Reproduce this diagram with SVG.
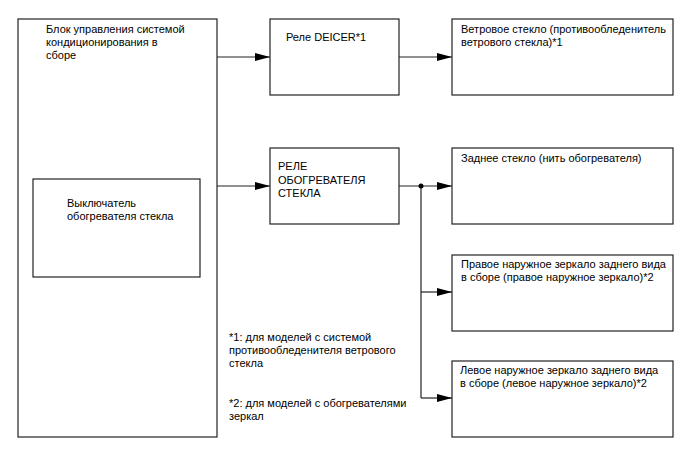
<svg xmlns="http://www.w3.org/2000/svg" width="688" height="463" viewBox="0 0 688 463">
<style>
.box{fill:#fff;stroke:#222;stroke-width:1.2}
.ln{fill:none;stroke:#222;stroke-width:1.2}
text{font-family:"Liberation Sans",Arial,sans-serif;font-size:11px;fill:#000}
</style>
<defs>
<marker id="ah" markerWidth="16" markerHeight="10" refX="15" refY="4" orient="auto" markerUnits="userSpaceOnUse">
<path d="M0,0 L15,4 L0,8 Z" fill="#000"/>
</marker>
</defs>
<rect width="688" height="463" fill="#fff"/>
<g id="ac-unit">
<rect class="box" x="18" y="19" width="199" height="418"/>
<text x="46" y="33">Блок управления системой</text>
<text x="46" y="46">кондиционирования в</text>
<text x="46" y="59">сборе</text>
</g>
<g id="switch">
<rect class="box" x="33" y="179" width="167" height="98"/>
<text x="67" y="207">Выключатель</text>
<text x="67" y="220">обогревателя стекла</text>
</g>
<g id="deicer-relay">
<rect class="box" x="270" y="19" width="129" height="76"/>
<text x="286" y="41">Реле DEICER*1</text>
</g>
<g id="windshield">
<rect class="box" x="452" y="19" width="221" height="76"/>
<text x="461" y="33">Ветровое стекло (противообледенитель</text>
<text x="461" y="46">ветрового стекла)*1</text>
</g>
<g id="defogger-relay">
<rect class="box" x="270" y="148" width="129" height="76"/>
<text x="278" y="170">РЕЛЕ</text>
<text x="278" y="184">ОБОГРЕВАТЕЛЯ</text>
<text x="278" y="197">СТЕКЛА</text>
</g>
<g id="rear-window">
<rect class="box" x="452" y="148" width="221" height="76"/>
<text x="461" y="162">Заднее стекло (нить обогревателя)</text>
</g>
<g id="right-mirror">
<rect class="box" x="452" y="255" width="221" height="76"/>
<text x="461" y="268">Правое наружное зеркало заднего вида</text>
<text x="461" y="281">в сборе (правое наружное зеркало)*2</text>
</g>
<g id="left-mirror">
<rect class="box" x="452" y="361" width="221" height="76"/>
<text x="460" y="374">Левое наружное зеркало заднего вида</text>
<text x="460" y="387">в сборе (левое наружное зеркало)*2</text>
</g>
<g id="notes">
<text x="229" y="341">*1: для моделей с системой</text>
<text x="229" y="354">противообледенителя ветрового</text>
<text x="229" y="367">стекла</text>
<text x="229" y="407">*2: для моделей с обогревателями</text>
<text x="229" y="420">зеркал</text>
</g>
<g id="connectors">
<line class="ln" x1="217" y1="57" x2="270" y2="57" marker-end="url(#ah)"/>
<line class="ln" x1="399" y1="57" x2="452" y2="57" marker-end="url(#ah)"/>
<line class="ln" x1="217" y1="186" x2="270" y2="186" marker-end="url(#ah)"/>
<line class="ln" x1="399" y1="186" x2="452" y2="186" marker-end="url(#ah)"/>
<path class="ln" d="M421,186 V398"/>
<line class="ln" x1="421" y1="292" x2="452" y2="292" marker-end="url(#ah)"/>
<line class="ln" x1="421" y1="398" x2="452" y2="398" marker-end="url(#ah)"/>
<circle cx="421" cy="186" r="2.5" fill="#000"/>
</g>
</svg>
